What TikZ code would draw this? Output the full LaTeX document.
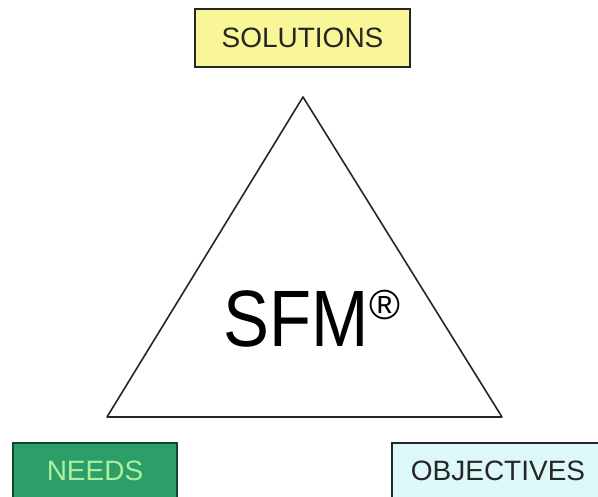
\documentclass[tikz,border=0pt]{standalone}
\usepackage{fontspec}
\setmainfont{Liberation Sans}
\begin{document}
\begin{tikzpicture}[x=1pt,y=1pt,
  label box/.style={draw=black!85, line width=1.8pt},
  label text/.style={font=\fontsize{28}{30}\selectfont},
  edge/.style={draw=black!85, line width=1.6pt}]
\clip (0,0) rectangle (598,497);
\useasboundingbox (0,0) rectangle (598,497);
\fill[white] (0,0) rectangle (598,497);
% corner labels
\filldraw[label box, fill={rgb,255:red,248;green,246;blue,150}] (195,430) rectangle (410,488);
\node[label text, text=black!85] (sol) at (302.5,459) {SOLUTIONS};
\filldraw[label box, fill={rgb,255:red,46;green,158;blue,104}, draw={rgb,255:red,20;green,70;blue,45}] (13,-10) rectangle (177,54);
\node[label text, text={rgb,255:red,170;green,240;blue,160}] (need) at (95,26) {NEEDS};
\filldraw[label box, fill={rgb,255:red,220;green,248;blue,248}] (392,-10) rectangle (610,54);
\node[label text, text=black!85] (obj) at (498,26) {OBJECTIVES};
% triangle
\coordinate (top) at (303,400);
\coordinate (bl) at (107,80);
\coordinate (br) at (502,80);
\draw[edge, line join=round] (top) -- (bl) -- (br) -- cycle;
% central mark
\node[font=\fontsize{80}{80}\selectfont, xscale=0.86, anchor=base west, inner sep=0] (sfm) at (223,150) {SFM};
\node[font=\fontsize{42}{42}\selectfont, anchor=base west, inner sep=0] (reg) at (369,177) {®};
\end{tikzpicture}
\end{document}
